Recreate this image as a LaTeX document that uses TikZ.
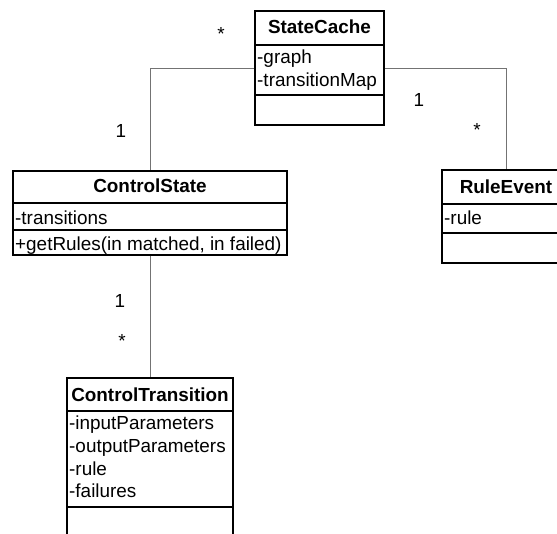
\documentclass[tikz,border=0pt]{standalone}
\usepackage{fontspec}
\setmainfont{Liberation Sans}
\usetikzlibrary{positioning}
\newcommand{\umlfont}{\fontsize{18.9}{22}\selectfont}
\tikzset{
  classbox/.style={draw, line width=1.3pt, inner sep=0pt},
  classname/.style={font=\umlfont\bfseries, anchor=base, inner sep=0pt},
  member/.style={anchor=base west, inner sep=0pt},
  mult/.style={anchor=base, inner sep=0pt},
  assoc/.style={draw=black!55, line width=0.9pt}
}

\begin{document}
\begin{tikzpicture}[x=1pt, y=-1pt, font=\umlfont]
\clip (0,0) rectangle (557,533);

% ================= StateCache =================
\node[classbox, minimum width=129pt, minimum height=114pt] (cache) at (319.5,68) {};
\draw[line width=1.3pt] (cache.west |- 0,45) -- (cache.east |- 0,45);
\draw[line width=1.3pt] (cache.west |- 0,95) -- (cache.east |- 0,95);
\node[classname] (cachename) at (319.5,33) {StateCache};
\node[member] (cachegraph) at (257,63) {-graph};
\node[member] (cachemap) at (257,86) {-transitionMap};

% ================= ControlState =================
\node[classbox, minimum width=274pt, minimum height=84pt] (state) at (150,213) {};
\draw[line width=1.3pt] (state.west |- 0,203) -- (state.east |- 0,203);
\draw[line width=1.3pt] (state.west |- 0,230) -- (state.east |- 0,230);
\node[classname] (statename) at (150,192) {ControlState};
\node[member] (statetrans) at (15,224) {-transitions};
\node[member] (staterules) at (15,250) {+getRules(in matched, in failed)};

% ================= RuleEvent =================
\node[classbox, minimum width=128pt, minimum height=93pt] (rule) at (506,216.5) {};
\draw[line width=1.3pt] (rule.west |- 0,204) -- (rule.east |- 0,204);
\draw[line width=1.3pt] (rule.west |- 0,233) -- (rule.east |- 0,233);
\node[classname] (rulename) at (506,193) {RuleEvent};
\node[member] (rulerule) at (444,224) {-rule};

% ================= ControlTransition =================
\node[classbox, minimum width=166pt, minimum height=170pt] (trans) at (150,463) {};
\draw[line width=1.3pt] (trans.west |- 0,411) -- (trans.east |- 0,411);
\draw[line width=1.3pt] (trans.west |- 0,507) -- (trans.east |- 0,507);
\node[classname] (transname) at (150,401) {ControlTransition};
\foreach \y/\t [count=\i] in {
  429/-inputParameters, 452/-outputParameters, 475/-rule, 497/-failures
}{
  \node[member] (transattr\i) at (69,\y) {\t};
}

% ================= Associations =================
\draw[assoc] (cache.west) -| (state.north);
\draw[assoc] (cache.east) -| (rule.north);
\draw[assoc] (state.south) -- (trans.north);

% multiplicities
\foreach \x/\y/\t [count=\i] in {
  221/40/*, 121/137/1, 419/106/1, 477/136/*, 120/307/1, 122/347/*
}{
  \node[mult] (mult\i) at (\x,\y) {\t};
}
\end{tikzpicture}
\end{document}
